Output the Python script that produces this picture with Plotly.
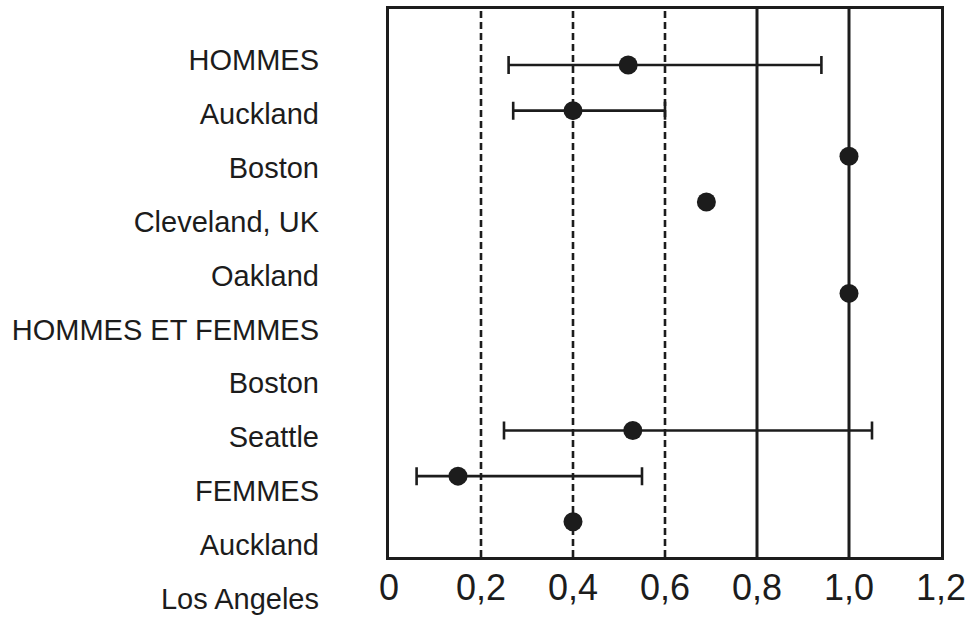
import plotly.graph_objects as go

# Row labels listed top to bottom
row_labels = ["HOMMES", "Auckland", "Boston", "Cleveland, UK", "Oakland",
              "HOMMES ET FEMMES", "Boston", "Seattle", "FEMMES", "Auckland",
              "Los Angeles"]

# Estimates with 95% confidence interval (row index, estimate, low, high)
ci_rows = [0, 1, 8, 9]
ci_est = [0.52, 0.40, 0.53, 0.15]
ci_low = [0.26, 0.27, 0.25, 0.06]
ci_high = [0.94, 0.60, 1.05, 0.55]

# Point estimates without an interval
pt_rows = [2, 3, 5, 10]
pt_est = [1.00, 0.69, 1.00, 0.40]

# X axis ticks
x_ticks = [0, 0.2, 0.4, 0.6, 0.8, 1.0, 1.2]
x_ticktext = ["0", "0,2", "0,4", "0,6", "0,8", "1,0", "1,2"]

# Reference lines
dashed_refs = [0.2, 0.4, 0.6]
solid_refs = [0.8, 1.0]

INK = "#1c1c1c"
FONT = "Liberation Sans, Arial, sans-serif"

fig = go.Figure()

fig.add_trace(go.Scatter(
    x=ci_est, y=ci_rows, mode="markers",
    marker=dict(size=19, color=INK),
    error_x=dict(type="data", symmetric=False,
                 array=[h - e for h, e in zip(ci_high, ci_est)],
                 arrayminus=[e - l for e, l in zip(ci_est, ci_low)],
                 color=INK, thickness=2.6, width=9),
    showlegend=False, hoverinfo="x",
))

fig.add_trace(go.Scatter(
    x=pt_est, y=pt_rows, mode="markers",
    marker=dict(size=19, color=INK),
    showlegend=False, hoverinfo="x",
))

# Row labels drawn in their own narrow panel on the left
fig.add_trace(go.Scatter(
    x=[1] * len(row_labels), y=list(range(len(row_labels))),
    xaxis="x2", yaxis="y2", mode="text", text=row_labels,
    textposition="middle left",
    textfont=dict(size=29, family=FONT, color=INK),
    showlegend=False, hoverinfo="skip", cliponaxis=False,
))

for v in dashed_refs:
    fig.add_shape(type="line", xref="x", yref="y domain", x0=v, x1=v, y0=0, y1=1,
                  line=dict(color=INK, width=2.6, dash="7px,4px"), layer="below")
for v in solid_refs:
    fig.add_shape(type="line", xref="x", yref="y domain", x0=v, x1=v, y0=0, y1=1,
                  line=dict(color=INK, width=3), layer="below")

W, H = 976, 617
ml, mr, mt, mb = 0, 35, 9, 10
plot_w = W - ml - mr
plot_h = H - mt - mb
box_left_px, box_bottom_px, label_right_px = 389, 557, 319
y_dom_low = (H - mb - box_bottom_px) / plot_h

fig.update_layout(
    width=W, height=H,
    margin=dict(l=ml, r=mr, t=mt, b=mb, autoexpand=False),
    paper_bgcolor="white", plot_bgcolor="rgba(0,0,0,0)",
    font=dict(family=FONT, color=INK),
    xaxis=dict(
        range=[0, 1.2], domain=[box_left_px / plot_w, 1],
        tickvals=x_ticks, ticktext=x_ticktext,
        showgrid=False, zeroline=False, automargin=False,
        showline=True, mirror=True, linewidth=3, linecolor=INK,
        ticks="", ticklabelstandoff=-3,
        tickfont=dict(size=36, family=FONT, color=INK),
        anchor="y",
    ),
    yaxis=dict(
        range=[10.77, -1.225], domain=[y_dom_low, 1], anchor="x",
        showgrid=False, zeroline=False, showticklabels=False, ticks="",
        automargin=False,
        showline=True, mirror=True, linewidth=3, linecolor=INK,
    ),
    xaxis2=dict(
        range=[0, 1], domain=[0, label_right_px / plot_w], anchor="y2",
        visible=False, automargin=False,
    ),
    yaxis2=dict(
        range=[10.093, -0.992], domain=[0, 1], anchor="x2",
        visible=False, automargin=False,
    ),
)

fig.write_html("out.html")
